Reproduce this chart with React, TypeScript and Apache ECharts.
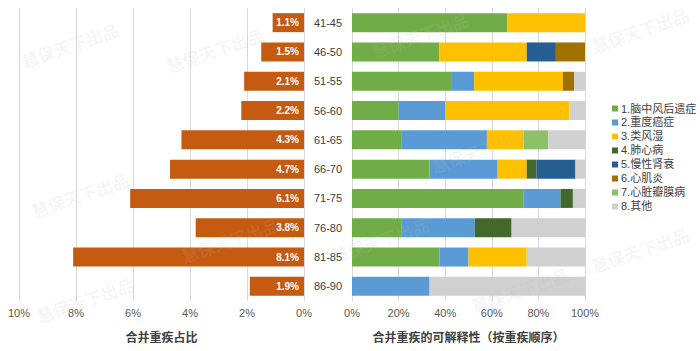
import React, { useEffect, useRef } from "react";
import * as echarts from "echarts";

const ageGroups = ["41-45", "46-50", "51-55", "56-60", "61-65", "66-70", "71-75", "76-80", "81-85", "86-90"];
const shareOfSevere = [1.1, 1.5, 2.1, 2.2, 4.3, 4.7, 6.1, 3.8, 8.1, 1.9];

const diseaseNames = ["1.脑中风后遗症", "2.重度癌症", "3.类风湿", "4.肺心病", "5.慢性肾衰", "6.心肌炎", "7.心脏瓣膜病", "8.其他"];
const stroke = [66.7, 37.5, 42.9, 20.0, 21.1, 33.3, 73.7, 21.1, 37.5, 0];
const cancer = [0, 0, 9.5, 20.0, 36.8, 29.2, 15.8, 31.6, 12.5, 33.3];
const rheumatoid = [33.3, 37.5, 38.1, 53.3, 15.8, 12.5, 0, 0, 25.0, 0];
const corPulmonale = [0, 0, 0, 0, 0, 4.2, 5.3, 15.8, 0, 0];
const renalFailure = [0, 12.5, 0, 0, 0, 16.7, 0, 0, 0, 0];
const myocarditis = [0, 12.5, 4.8, 0, 0, 0, 0, 0, 0, 0];
const valvular = [0, 0, 0, 0, 10.5, 0, 0, 0, 0, 0];
const others = [0, 0, 4.8, 6.7, 15.8, 4.2, 5.3, 31.6, 25.0, 66.7];
const diseaseSeries = [stroke, cancer, rheumatoid, corPulmonale, renalFailure, myocarditis, valvular, others];
const leftTicks = [0, 2, 4, 6, 8, 10];
const rightTicks = [0, 20, 40, 60, 80, 100];

const colors = ["#70AD47", "#5B9BD5", "#FFC000", "#43682B", "#255E91", "#9E7100", "#8CC168", "#D0D0D0"];
const FONT = "'Liberation Sans', 'Noto Sans CJK SC', sans-serif";

export default function App() {
  const ref = useRef<HTMLDivElement>(null);
  useEffect(() => {
    if (!ref.current) return;
    const chart = echarts.init(ref.current, null, { renderer: "svg" });
    const wm = [
      [70, 45], [215, 50], [80, 195], [230, 240], [85, 300], [420, 35], [480, 150], [520, 290], [640, 250], [640, 30], [380, 240]
    ];
    const option: any = {
      animation: false,
      backgroundColor: "#ffffff",
      textStyle: { fontFamily: FONT },
      legend: {
        orient: "vertical",
        left: 607,
        top: 98,
        icon: "rect",
        itemWidth: 6,
        itemHeight: 6,
        itemGap: 3,
        data: diseaseNames,
        textStyle: { fontSize: 11, color: "#404040", fontFamily: FONT, padding: [0, 0, 0, -2] },
      },
      grid: [
        { left: 19, width: 285, top: 8, height: 293, containLabel: false },
        { left: 352, width: 233, top: 8, height: 293, containLabel: false },
      ],
      xAxis: [
        {
          gridIndex: 0,
          type: "value",
          min: leftTicks[0],
          max: leftTicks[leftTicks.length - 1],
          interval: 2,
          inverse: true,
          axisLine: { show: false },
          axisTick: { show: false },
          splitLine: { show: true, lineStyle: { color: "#D9D9D9", width: 1 } },
          axisLabel: { formatter: "{value}%", color: "#595959", fontSize: 11, margin: 6, fontFamily: FONT },
          name: "合并重疾占比",
          nameLocation: "middle",
          nameGap: 31,
          nameTextStyle: { fontSize: 12, fontWeight: "bold", color: "#404040", fontFamily: FONT },
        },
        {
          gridIndex: 1,
          type: "value",
          min: rightTicks[0],
          max: rightTicks[rightTicks.length - 1],
          interval: 20,
          axisLine: { show: false },
          axisTick: { show: false },
          splitLine: { show: true, lineStyle: { color: "#D9D9D9", width: 1 } },
          axisLabel: { formatter: "{value}%", color: "#595959", fontSize: 11, margin: 6, fontFamily: FONT },
          name: "合并重疾的可解释性（按重疾顺序）",
          nameLocation: "middle",
          nameGap: 31,
          nameTextStyle: { fontSize: 12, fontWeight: "bold", color: "#404040", fontFamily: FONT },
        },
      ],
      yAxis: [
        {
          gridIndex: 0,
          type: "category",
          data: ageGroups,
          inverse: true,
          axisLine: { show: false },
          axisTick: { show: false },
          axisLabel: { show: false },
        },
        {
          gridIndex: 1,
          type: "category",
          data: ageGroups,
          inverse: true,
          axisLine: { show: false },
          axisTick: { show: false },
          axisLabel: { show: true, align: "center", margin: 24, color: "#404040", fontSize: 11, fontFamily: FONT },
        },
      ],
      graphic: wm.map(([x, y]) => ({
        type: "text",
        x,
        y,
        rotation: 0.33,
        silent: true,
        z: 100,
        style: {
          text: "慧保天下出品",
          fill: "rgba(190,190,190,0.13)",
          font: "bold 17px 'Noto Sans CJK SC'",
          align: "center",
          verticalAlign: "middle",
        },
      })),
      series: [
        {
          type: "bar",
          xAxisIndex: 0,
          yAxisIndex: 0,
          data: shareOfSevere,
          barWidth: 19,
          itemStyle: { color: "#C55A11" },
          label: {
            show: true,
            position: "insideRight",
            distance: 5,
            formatter: "{c}%",
            color: "#ffffff",
            fontSize: 10,
            fontWeight: "bold",
            fontFamily: FONT,
          },
        },
        ...diseaseNames.map((name, i) => ({
          type: "bar",
          name,
          stack: "share",
          xAxisIndex: 1,
          yAxisIndex: 1,
          data: diseaseSeries[i],
          barWidth: 19,
          itemStyle: { color: colors[i] },
        })),
      ],
    };
    chart.setOption(option);
    return () => chart.dispose();
  }, []);
  return <div ref={ref} style={{ position: "fixed", left: 0, top: 0, width: 700, height: 351, background: "#fff" }} />;
}
